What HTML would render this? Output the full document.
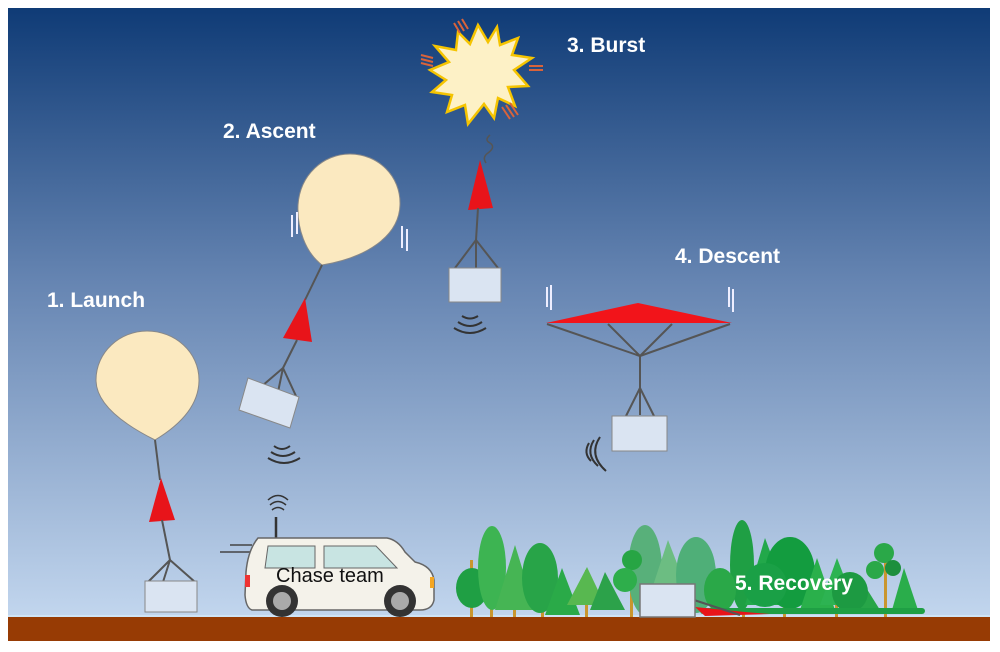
<!DOCTYPE html>
<html><head><meta charset="utf-8"><style>
html,body{margin:0;padding:0;background:#fff;}
svg{display:block}
text{font-family:"Liberation Sans",sans-serif;font-weight:bold;fill:#fff}
</style></head><body>
<svg width="1000" height="652" viewBox="0 0 1000 652">
<defs>
<linearGradient id="sky" x1="0" y1="0" x2="0" y2="1">
<stop offset="0" stop-color="#0f3b76"/>
<stop offset="0.45" stop-color="#6685b2"/>
<stop offset="1" stop-color="#c2d6ee"/>
</linearGradient>
</defs>
<rect x="8" y="8" width="982" height="610" fill="url(#sky)"/>
<rect x="8" y="617" width="982" height="24" fill="#973b04"/>
<line x1="8" y1="616" x2="990" y2="616" stroke="#cfe4f6" stroke-width="2"/>

<text x="47" y="307" font-size="21">1. Launch</text>
<text x="223" y="138" font-size="21">2. Ascent</text>
<text x="567" y="52" font-size="21">3. Burst</text>
<text x="675" y="263" font-size="21">4. Descent</text>

<!-- Launch -->
<path d="M155,440 C125,425 96,405 96,380 C96,352 120,331 147,331 C175,331 199,352 199,380 C199,405 180,425 155,440Z" fill="#fbe9c0" stroke="#888" stroke-width="1"/>
<line x1="155" y1="440" x2="160" y2="480" stroke="#555" stroke-width="2"/>
<polygon points="161,478 149,522 175,520" fill="#e8141a"/>
<line x1="162" y1="520" x2="170" y2="560" stroke="#555" stroke-width="2"/>
<path d="M170,560 L148,582 M170,560 L163,582 M170,560 L195,582" stroke="#555" stroke-width="2" fill="none"/>
<rect x="145" y="581" width="52" height="31" fill="#dae4f2" stroke="#888"/>

<!-- Ascent -->
<path d="M322,265 C305,252 297,228 298,205 C300,175 323,154 350,154 C378,154 401,176 400,205 C399,237 365,258 322,265Z" fill="#fbe9c0" stroke="#888"/>
<line x1="322" y1="265" x2="305" y2="300" stroke="#555" stroke-width="2"/>
<polygon points="305,298 283,338 312,342" fill="#e8141a"/>
<line x1="297" y1="340" x2="283" y2="368" stroke="#555" stroke-width="2"/>
<path d="M283,368 L262,386 M283,368 L278,392 M283,368 L296,396" stroke="#555" stroke-width="2" fill="none"/>
<polygon points="248,378 299,397 290,428 239,410" fill="#dae4f2" stroke="#888"/>
<path d="M292,215 v22 M297,212 v22 M402,226 v22 M407,229 v22" stroke="#eef" stroke-width="2"/>
<g fill="none" stroke="#333" stroke-width="2">
<path d="M274,446 q8,6 16,0"/><path d="M271,452 q12,8 24,0"/><path d="M268,458 q16,10 32,0"/>
</g>

<!-- Burst -->
<polygon points="478,25 488,42 497,27 500,45 518,38 512,55 532,58 514,70 528,86 508,87 515,106 498,98 494,118 484,104 468,124 465,105 447,112 452,95 432,92 446,80 430,70 449,62 435,46 456,50 458,32 470,44" fill="#fdf1c6" stroke="#f5c400" stroke-width="2.5"/>
<g stroke="#d9633a" stroke-width="2">
<path d="M454,23 l6,10 M458,21 l6,10 M462,19 l6,10"/>
<path d="M421,55 l12,3 M421,59 l12,3 M421,63 l12,3"/>
<path d="M529,66 h14 M529,70 h14"/>
<path d="M502,107 l8,12 M506,105 l8,12 M510,103 l8,12"/>
</g>
<path d="M490,135 q-6,5 0,8 q6,4 -2,10 q-6,4 -2,10" stroke="#555" stroke-width="1.5" fill="none"/>
<polygon points="480,160 468,210 493,208" fill="#e8141a"/>
<line x1="478" y1="208" x2="476" y2="240" stroke="#555" stroke-width="2"/>
<path d="M476,240 L455,268 M476,240 L476,268 M476,240 L498,268" stroke="#555" stroke-width="2" fill="none"/>
<rect x="449" y="268" width="52" height="34" fill="#dae4f2" stroke="#888"/>
<g fill="none" stroke="#333" stroke-width="2">
<path d="M462,316 q8,5 16,0"/><path d="M458,322 q12,8 24,0"/><path d="M454,328 q16,10 32,0"/>
</g>

<!-- Descent -->
<polygon points="546,323 638,303 732,323" fill="#f2141a"/>
<g stroke="#555" stroke-width="2">
<line x1="547" y1="324" x2="640" y2="356"/><line x1="608" y1="324" x2="640" y2="356"/>
<line x1="672" y1="324" x2="640" y2="356"/><line x1="730" y1="324" x2="640" y2="356"/>
<line x1="640" y1="356" x2="640" y2="415"/>
<path d="M640,388 L626,416 M640,388 L654,416" fill="none"/>
</g>
<rect x="612" y="416" width="55" height="35" fill="#dae4f2" stroke="#888"/>
<path d="M547,287 v20 M551,285 v25 M729,287 v20 M733,289 v23" stroke="#eef" stroke-width="2"/>
<g fill="none" stroke="#333" stroke-width="2">
<path d="M589,443 q-6,10 2,18"/><path d="M594,440 q-9,14 4,26"/><path d="M600,437 q-12,18 6,34"/>
</g>

<!-- Trees -->
<g>
<g fill="#c9962f">
<rect x="470" y="560" width="3" height="57"/><rect x="490" y="560" width="3" height="57"/>
<rect x="513" y="560" width="3" height="57"/><rect x="541" y="560" width="3" height="57"/>
<rect x="585" y="570" width="3" height="47"/><rect x="630" y="560" width="3" height="57"/>
<rect x="742" y="560" width="3" height="57"/><rect x="783" y="565" width="3" height="52"/>
<rect x="835" y="565" width="3" height="52"/><rect x="884" y="560" width="3" height="57"/>
</g>
<ellipse cx="645" cy="570" rx="17" ry="45" fill="#58b07a"/>
<polygon points="668,540 645,610 695,610" fill="#6cbd82"/>
<ellipse cx="696" cy="575" rx="20" ry="38" fill="#4faf78"/>
<ellipse cx="472" cy="588" rx="16" ry="20" fill="#1f9f44"/>
<ellipse cx="492" cy="568" rx="14" ry="42" fill="#3db452"/>
<polygon points="515,545 495,610 535,610" fill="#46b554"/>
<ellipse cx="540" cy="578" rx="18" ry="35" fill="#28a448"/>
<polygon points="562,568 545,615 580,615" fill="#2aaa48"/>
<polygon points="587,567 567,605 605,605" fill="#58b850"/>
<polygon points="605,572 590,610 625,610" fill="#2ca24a"/>
<circle cx="632" cy="560" r="10" fill="#27a544"/>
<circle cx="625" cy="580" r="12" fill="#2eae4b"/>
<ellipse cx="742" cy="565" rx="12" ry="45" fill="#1f9f44"/>
<polygon points="765,538 745,605 790,605" fill="#22a84a"/>
<ellipse cx="790" cy="573" rx="25" ry="36" fill="#139c3f"/>
<polygon points="817,558 800,610 835,610" fill="#2ab04b"/>
<polygon points="837,558 820,605 855,605" fill="#2db352"/>
<polygon points="860,578 845,610 880,610" fill="#27a548"/>
<circle cx="884" cy="553" r="10" fill="#2aa848"/>
<circle cx="875" cy="570" r="9" fill="#2aa848"/>
<circle cx="893" cy="568" r="8" fill="#1d8f3d"/>
<polygon points="904,568 892,610 918,610" fill="#2aad4b"/>
<ellipse cx="765" cy="585" rx="22" ry="22" fill="#1aa046"/>
<ellipse cx="720" cy="590" rx="16" ry="22" fill="#2aa848"/>
<ellipse cx="850" cy="592" rx="18" ry="20" fill="#1d9a42"/>
<rect x="700" y="608" width="225" height="6" rx="3" fill="#1f9f44"/>
</g>
<path d="M695,607 L745,612 L770,614 L705,616Z" fill="#e8141a"/>
<line x1="694" y1="600" x2="740" y2="615" stroke="#555" stroke-width="2"/>
<rect x="640" y="584" width="55" height="33" fill="#dae4f2" stroke="#777" stroke-width="1.5"/>
<text x="735" y="590" font-size="21">5. Recovery</text>

<!-- Car -->
<path d="M230,545 h22 M220,552 h30" stroke="#444" stroke-width="1.5"/>
<line x1="276" y1="517" x2="276" y2="538" stroke="#333" stroke-width="2.5"/>
<g fill="none" stroke="#333" stroke-width="1.5">
<path d="M272,510 q6,-5 12,0"/><path d="M270,505 q8,-7 16,0"/><path d="M268,500 q10,-9 20,0"/>
</g>
<path d="M258,538 L387,538 Q398,540 405,552 L415,562 Q432,566 434,580 L434,600 Q432,610 420,610 L252,610 Q246,608 245,595 L246,572 Q248,550 258,538Z" fill="#f4f2ea" stroke="#666" stroke-width="1.5"/>
<path d="M268,546 h47 v22 h-50Z" fill="#c8e4e2" stroke="#666"/>
<path d="M324,546 h52 l21,22 h-73Z" fill="#c8e4e2" stroke="#666"/>
<rect x="245" y="575" width="5" height="12" fill="#e33"/>
<rect x="430" y="577" width="4" height="11" fill="#f5a623"/>
<circle cx="282" cy="601" r="16" fill="#333"/><circle cx="282" cy="601" r="9" fill="#aaa"/>
<circle cx="400" cy="601" r="16" fill="#333"/><circle cx="400" cy="601" r="9" fill="#aaa"/>
<text x="276" y="582" font-size="20" style="fill:#111;font-weight:normal">Chase team</text>
</svg>
</body></html>
